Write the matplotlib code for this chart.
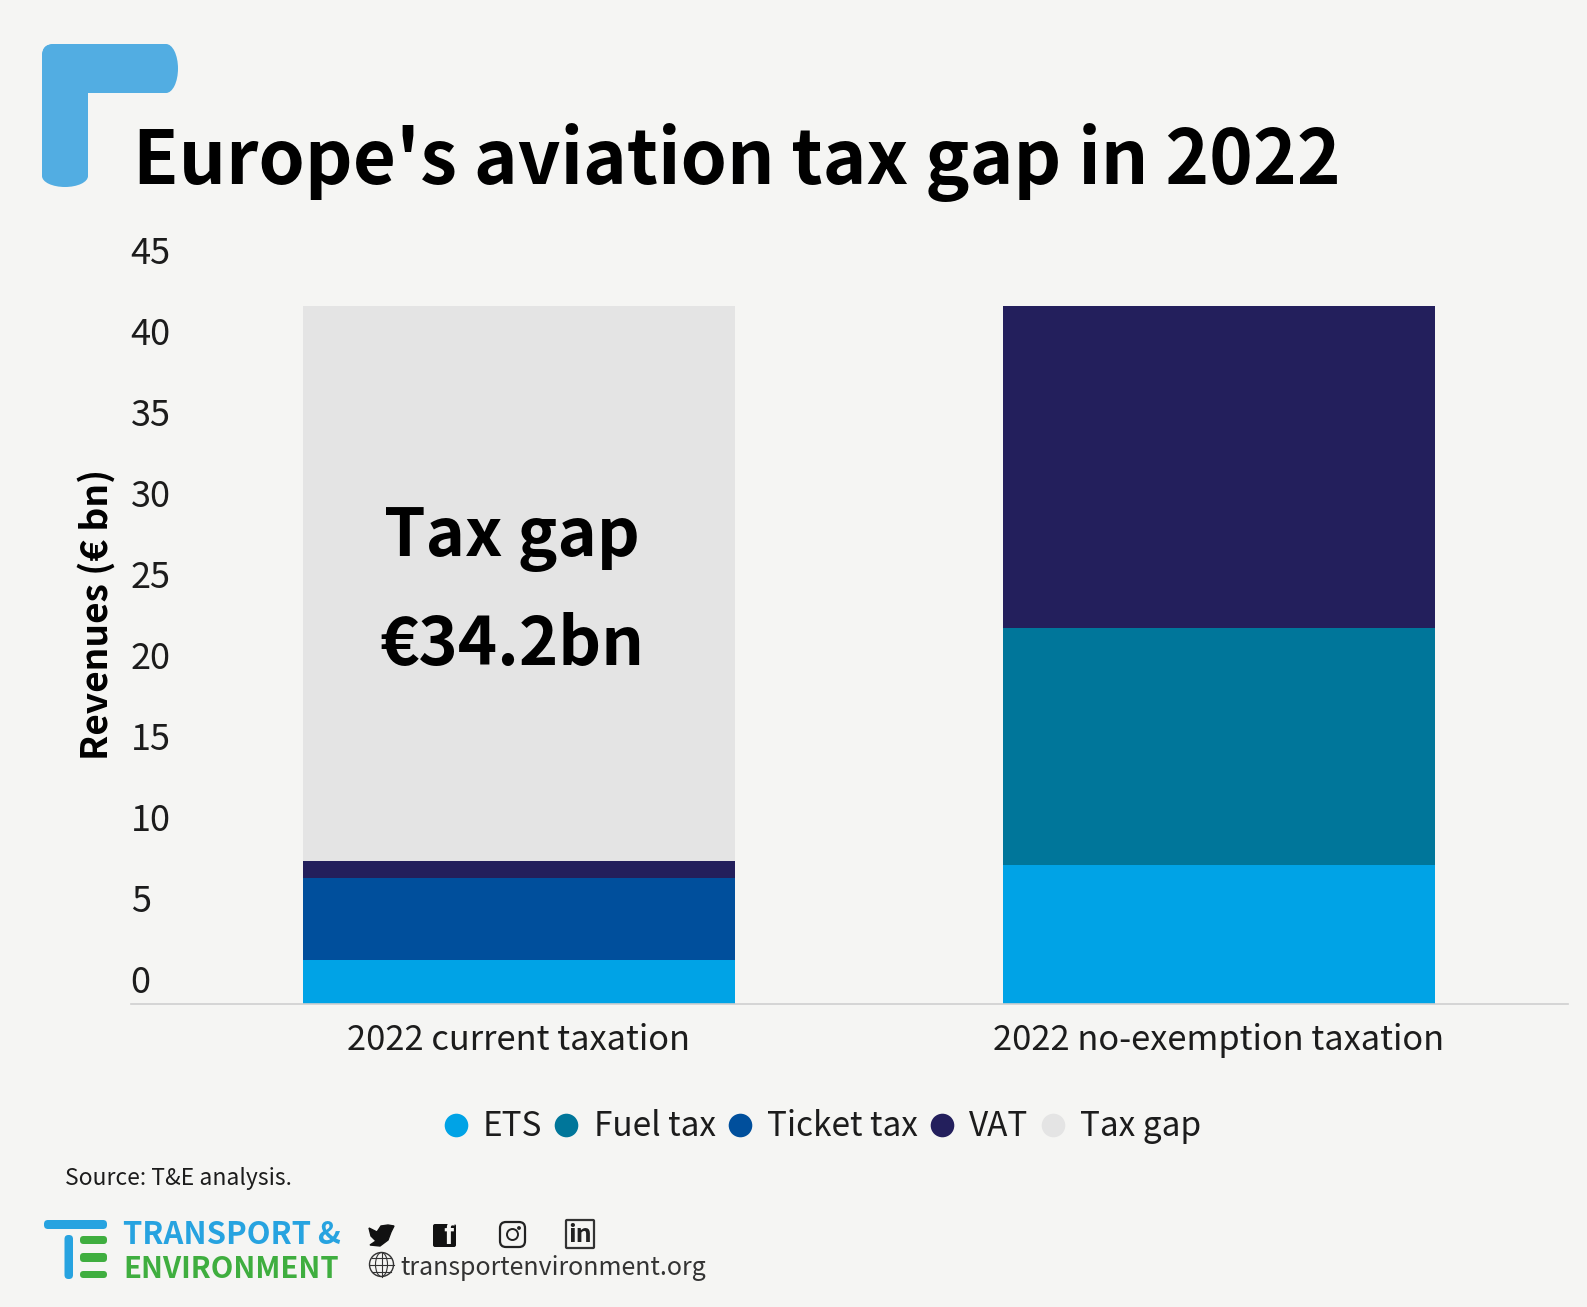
import matplotlib
matplotlib.use("Agg")
import matplotlib.pyplot as plt
from matplotlib.lines import Line2D
from matplotlib.patches import Circle, Ellipse, FancyBboxPatch, Polygon, Rectangle
from matplotlib.transforms import ScaledTranslation

plt.rcParams["font.family"] = ["Noto Sans CJK SC", "DejaVu Sans"]

W, H = 1587, 1307
BG = "#f5f5f3"
TEXT = "#1c1c1c"

categories = ["2022 current taxation", "2022 no-exemption taxation"]
series_names = ["ETS", "Fuel tax", "Ticket tax", "VAT", "Tax gap"]
ets = [2.7, 8.6]
fuel_tax = [0, 14.6]
ticket_tax = [5.1, 0]
vat = [1.05, 19.9]
tax_gap = [34.25, 0]
y_ticks = [0, 5, 10, 15, 20, 25, 30, 35, 40, 45]
colors = ["#00a3e6", "#00769a", "#004f9c", "#231f5c", "#e4e4e4"]


def rounded(ov, x0, y0, x1, y1, r, **kw):
    box = FancyBboxPatch((x0 + r, y0 + r), x1 - x0 - 2 * r, y1 - y0 - 2 * r,
                         boxstyle=f"round,pad={r},rounding_size={r}", linewidth=0, **kw)
    ov.add_patch(box)


fig = plt.figure(figsize=(W / 100, H / 100), dpi=100, facecolor=BG)

# main chart, position taken from the pixel coordinates of the reference
ax = fig.add_axes([130.6 / W, (H - 1004) / H, (1568 - 130.6) / W, (1004 - 275.5) / H])
ax.set_facecolor("none")

bottom = [0, 0]
for name, vals, col in zip(series_names, [ets, fuel_tax, ticket_tax, vat, tax_gap], colors):
    ax.bar(range(len(categories)), vals, width=0.6175, bottom=bottom, color=col, linewidth=0)
    bottom = [b + v for b, v in zip(bottom, vals)]

ax.set_xlim(-0.5546, 1.499)
ax.set_ylim(0, 45)
ax.set_xticks(range(len(categories)))
ax.set_xticklabels(categories, fontsize=24.8, color=TEXT)
ax.set_yticks(y_ticks)
ax.tick_params(axis="both", length=0)
ax.tick_params(axis="x", pad=14)
ax.tick_params(axis="y", pad=0, labelsize=26, labelcolor=TEXT)
offset = ScaledTranslation(0, 21 / 100, fig.dpi_scale_trans)
for lab in ax.get_yticklabels():
    lab.set_ha("left")
    lab.set_va("center")
    lab.set_transform(lab.get_transform() + offset)
for side in ["top", "right", "left"]:
    ax.spines[side].set_visible(False)
ax.spines["bottom"].set_color("#cfcfcf")
ax.spines["bottom"].set_linewidth(1.2)

ax.text(-0.01, 28.75, "Tax gap", ha="center", va="center", fontsize=48, fontweight="bold", color="black")
ax.text(-0.01, 22.15, "€34.2bn", ha="center", va="center", fontsize=48, fontweight="bold", color="black")

handles = [Line2D([], [], linestyle="none", marker="o", markersize=17, color=c, markeredgewidth=0) for c in colors]
fig.legend(handles, series_names, loc="center", bbox_to_anchor=(820 / W, (H - 1127) / H), ncol=5, frameon=False,
           fontsize=24, labelcolor=TEXT, columnspacing=0.22, handletextpad=0.32, handlelength=1.0, borderpad=0)

# overlay in pixel coordinates for the header, footer and logos
ov = fig.add_axes([0, 0, 1, 1], zorder=5)
ov.set_xlim(0, W)
ov.set_ylim(H, 0)
ov.axis("off")
ov.patch.set_alpha(0)

blue = "#52ade2"
rounded(ov, 42, 44, 100, 93, 12, color=blue)
ov.add_patch(Rectangle((60, 44), 106, 49, color=blue, linewidth=0))
ov.add_patch(Ellipse((166, 68.5), 24, 49, color=blue, linewidth=0))
rounded(ov, 42, 44, 88, 120, 12, color=blue)
ov.add_patch(Rectangle((42, 90), 46, 86, color=blue, linewidth=0))
ov.add_patch(Ellipse((65, 176), 46, 22, color=blue, linewidth=0))

ov.text(133, 184, "Europe's aviation tax gap in 2022", ha="left", va="baseline", fontsize=53.5,
        fontweight="bold", color="black")
ov.text(97, 614, "Revenues (€ bn)", ha="center", va="center", rotation=90, fontsize=26.7,
        fontweight="bold", color="black")
ov.text(65, 1178, "Source: T&E analysis.", ha="left", va="center", fontsize=16.5, color=TEXT)

# T&E logo
rounded(ov, 44, 1220, 107, 1229, 4, color="#27a3e0")
rounded(ov, 64.5, 1235, 73, 1279, 4, color="#27a3e0")
for y0, y1 in [(1236, 1244), (1253, 1262), (1271, 1278)]:
    rounded(ov, 80, y0, 107, y1, 3.5, color="#3fae3f")
ov.text(123, 1244, "TRANSPORT &", ha="left", va="baseline", fontsize=22.3, fontweight="bold", color="#27a3e0")
ov.text(123, 1278, "ENVIRONMENT", ha="left", va="baseline", fontsize=21.1, fontweight="bold", color="#3fae3f")

# social icons
ov.add_patch(Polygon([(369, 1228), (377, 1232), (381, 1226), (388, 1225), (394, 1226), (391, 1232),
                      (388, 1240), (380, 1246), (370, 1245), (376, 1241), (371, 1236)], color="#111111"))
rounded(ov, 433, 1224, 456, 1247, 2, color="#111111")
ov.text(448, 1236, "f", ha="center", va="center", fontsize=20, fontweight="bold", color=BG)
rounded(ov, 500, 1222, 525, 1247, 6, facecolor="none", edgecolor="#222222")
ov.patches[-1].set_linewidth(1.6)
ov.add_patch(Circle((512.5, 1234.5), 5.5, fill=False, edgecolor="#222222", linewidth=1.4))
ov.add_patch(Circle((519, 1228), 1.2, color="#222222"))
rounded(ov, 566, 1220, 594, 1248, 1, facecolor="none", edgecolor="#333333")
ov.patches[-1].set_linewidth(1.6)
ov.text(580, 1235, "in", ha="center", va="center", fontsize=18, fontweight="bold", color="#222222")

# globe
ov.add_patch(Circle((381.5, 1264.5), 12, fill=False, edgecolor="#333333", linewidth=1))
ov.add_patch(Ellipse((381.5, 1264.5), 12, 24, fill=False, edgecolor="#333333", linewidth=0.8))
ov.plot([369.5, 393.5], [1264.5, 1264.5], color="#333333", lw=0.8)
ov.plot([381.5, 381.5], [1252.5, 1276.5], color="#333333", lw=0.8)
ov.plot([372, 391], [1257.5, 1257.5], color="#333333", lw=0.8)
ov.plot([372, 391], [1271.5, 1271.5], color="#333333", lw=0.8)
ov.text(400, 1268, "transportenvironment.org", ha="left", va="center", fontsize=18, color="#333333")

fig.savefig("out.png", dpi=100, facecolor=BG)
